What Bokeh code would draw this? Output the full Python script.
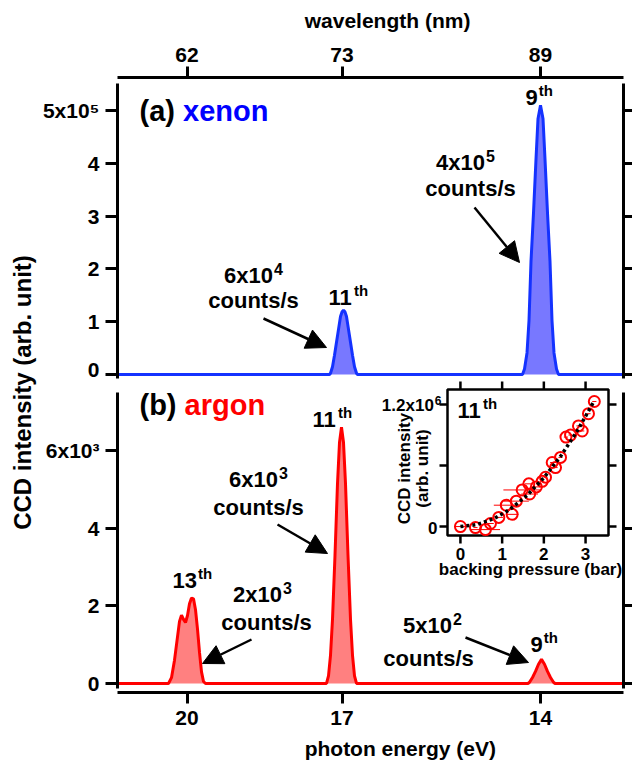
import math
from bokeh.plotting import figure
from bokeh.models import Range1d, LinearAxis, FixedTicker, Arrow, NormalHead
from bokeh.layouts import row, column
from bokeh.core.properties import value
from bokeh.embed import file_html
from bokeh.resources import INLINE

FONT = "Liberation Sans"

# ------------------------------------------------------------------ data
# x axis = CCD pixel index of the spectrometer detector
tick_pixel = [139, 449, 846]
energy_labels = ["20", "17", "14"]          # photon energy (eV)
wavelength_labels = ["62", "73", "89"]      # wavelength (nm)

# (a) xenon spectrum (counts)
xenon_pixel = [0,
               424, 426, 430, 434, 438, 442, 446, 449, 452, 455, 458, 462, 466, 470, 474, 478, 480,
               810, 814, 819, 823, 827, 832, 837, 841, 846, 851, 855, 860, 865, 869, 873, 878, 882,
               1012]
xenon_counts = [0,
                0, 2400, 14600, 36600, 61000, 85400, 109800, 118300, 122000, 118300, 109800, 85400,
                61000, 36600, 14600, 2400, 0,
                0, 10200, 40800, 102000, 214200, 306000, 408000, 484500, 510000, 484500, 408000,
                306000, 214200, 102000, 40800, 10200, 0,
                0]

# (b) argon spectrum (counts)
argon_pixel = [0,
               102, 108, 114, 120, 124, 128, 132, 136, 140, 144, 148, 152, 156, 160, 164, 168, 172, 176,
               418, 422, 426, 430, 435, 440, 444, 448, 452, 456, 461, 466, 470, 474, 478,
               821, 824, 830, 836, 842, 848, 854, 860, 866, 872, 875,
               1012]
argon_counts = [0,
                0, 150, 600, 1200, 1600, 1760, 1650, 1570, 1750, 2050, 2200, 2180, 1900, 1400, 800, 300, 50, 0,
                0, 198, 726, 1650, 3300, 5148, 6204, 6600, 6204, 5148, 3300, 1650, 726, 198, 0,
                0, 31, 155, 310, 496, 620, 496, 310, 155, 31, 0,
                0]

xenon_yticks = [0, 1e5, 2e5, 3e5, 4e5, 5e5]
xenon_ytick_labels = ["0", "1", "2", "3", "4", "5x10\u2075"]
argon_yticks = [0, 2e3, 4e3, 6e3]
argon_ytick_labels = ["0", "2", "4", "6x10\u00b3"]

# inset: 11th harmonic vs backing pressure
pressure_bar = [0.0, 0.36, 0.6, 0.72, 0.92, 1.1, 1.24, 1.34, 1.48, 1.64, 1.66, 1.82, 1.96, 2.04,
                2.2, 2.28, 2.4, 2.53, 2.64, 2.83, 2.92, 3.07, 3.21]
pressure_err = [0.15, 0.05, 0.35, 0.08, 0.1, 0.3, 0.15, 0.3, 0.45, 0.1, 0.2, 0.1, 0.05, 0.05,
                0.05, 0.05, 0.05, 0.05, 0.05, 0.05, 0.05, 0.05, 0.05]
inset_intensity = [0.0, -0.01e6, -0.03e6, 0.03e6, 0.09e6, 0.21e6, 0.12e6, 0.25e6, 0.36e6, 0.42e6,
                   0.32e6, 0.39e6, 0.445e6, 0.485e6, 0.63e6, 0.58e6, 0.68e6, 0.88e6, 0.9e6, 0.99e6,
                   0.94e6, 1.11e6, 1.23e6]
fit_pressure = [0, 0.4, 0.8, 1.2, 1.6, 2.0, 2.4, 2.8, 3.2]
fit_intensity = [0, 0.019e6, 0.077e6, 0.173e6, 0.307e6, 0.48e6, 0.69e6, 0.94e6, 1.23e6]
inset_xticks = [0, 1, 2, 3]
inset_yticks = [0, 0.6e6, 1.2e6]

# ------------------------------------------------------------------ layout (page px)
PAGE_W, PAGE_H = 632, 763
LABEL_W = 38
FIG_W = PAGE_W - LABEL_W
FR_L, FR_R = 117, 623
TTL_TOP_H = 38
TOP_T, SPLIT, BOT_B = 77, 380, 692
TTL_BOT_H = 29
BOT_END = PAGE_H - TTL_BOT_H
MID = 0.36   # alphabetic baseline -> visual middle, in em

BLUE_LINE, BLUE_FILL = "#1432ff", "#7878ff"
RED_LINE, RED_FILL = "#ff0000", "#ff8080"

W = {'0': .556, '1': .556, '2': .556, '3': .556, '4': .556, '5': .556, '6': .556, '7': .556,
     '8': .556, '9': .556, 'x': .556, '.': .278, 't': .333, 'h': .611, 'c': .556, 'o': .611,
     'u': .611, 'n': .611, 's': .556, '/': .278, '(': .333, ')': .333, ' ': .278, 'a': .556,
     'b': .611, 'e': .556, 'g': .611, 'r': .389}


def tw(s, size):
    return sum(W.get(c, .556) for c in s) * size


def style_axis(ax, size=21, out=12, standoff=5):
    ax.axis_line_width = 3
    ax.axis_line_color = "black"
    ax.major_tick_line_width = 3
    ax.major_tick_line_color = "black"
    ax.major_tick_out = out
    ax.major_tick_in = 0
    ax.minor_tick_line_color = None
    ax.major_label_text_font = FONT
    ax.major_label_text_font_style = "bold"
    ax.major_label_text_font_size = f"{size}px"
    ax.major_label_text_color = "black"
    ax.major_label_standoff = standoff


def bare_fig(width, height, xr, yr):
    p = figure(width=width, height=height, x_range=xr, y_range=yr, toolbar_location=None,
               output_backend="svg", min_border=0, x_axis_location=None, y_axis_location=None)
    p.outline_line_color = None
    p.grid.visible = False
    return p


def make_fig(height, yr, xloc, btop, bbot):
    p = figure(width=FIG_W, height=height, x_range=Range1d(0, 1012), y_range=yr,
               x_axis_location=xloc, y_axis_location="left", toolbar_location=None,
               output_backend="svg", min_border_left=FR_L - LABEL_W, min_border_right=PAGE_W - FR_R,
               min_border_top=btop, min_border_bottom=bbot)
    p.outline_line_color = None
    p.grid.visible = False
    p.background_fill_color = "white"
    p.border_fill_color = "white"
    return p


def side_axes(p, ticks, labels, bounds):
    ya = p.yaxis[0]
    style_axis(ya, 21, 12, 6)
    ya.ticker = FixedTicker(ticks=ticks)
    ya.major_label_overrides = {t: l for t, l in zip(ticks, labels)}
    ya.bounds = bounds
    ra = LinearAxis(ticker=FixedTicker(ticks=ticks))
    style_axis(ra, 1, PAGE_W - FR_R, 0)
    ra.major_label_overrides = {t: "" for t in ticks}
    ra.bounds = bounds
    p.add_layout(ra, "right")


# ---------------- top panel (xenon)
top = make_fig(SPLIT - TTL_TOP_H, Range1d(-11400, 562500), "above", TOP_T - TTL_TOP_H, 0)
xa = top.xaxis[0]
style_axis(xa, 21, 11, 5)
xa.ticker = FixedTicker(ticks=tick_pixel)
xa.major_label_overrides = {t: l for t, l in zip(tick_pixel, wavelength_labels)}
side_axes(top, xenon_yticks, xenon_ytick_labels, (-7600, 551000))

top.varea(x=xenon_pixel, y1=0, y2=xenon_counts, fill_color=BLUE_FILL)
top.line(xenon_pixel, xenon_counts, line_color=BLUE_LINE, line_width=3)

# ---------------- bottom panel (argon)
bot = make_fig(BOT_END - SPLIT, Range1d(-232, 7800), "below", 0, BOT_END - BOT_B)
bx = bot.xaxis[0]
style_axis(bx, 21, 11, 7)
bx.ticker = FixedTicker(ticks=tick_pixel)
bx.major_label_overrides = {t: l for t, l in zip(tick_pixel, energy_labels)}
side_axes(bot, argon_yticks, argon_ytick_labels, (-129, 7490))

bot.varea(x=argon_pixel, y1=0, y2=argon_counts, fill_color=RED_FILL)
bot.line(argon_pixel, argon_counts, line_color=RED_LINE, line_width=3)

# ---------------- inset (drawn in bottom panel with its own ranges)
IX0, IX1, IY0, IY1 = -0.31, 3.55, -0.088e6, 1.348e6
IB_L, IB_R, IB_T, IB_B = 447, 608, 389, 535
ixs = (IB_R - IB_L) / (IX1 - IX0)
iys = (IB_B - IB_T) / (IY1 - IY0)
ixr = Range1d(IX0 - (IB_L - FR_L) / ixs, IX1 + (FR_R - IB_R) / ixs)
iyr = Range1d(IY0 - (BOT_B - IB_B) / iys, IY1 + (IB_T - SPLIT) / iys)
bot.extra_x_ranges = {"ix": ixr}
bot.extra_y_ranges = {"iy": iyr}
IR = dict(x_range_name="ix", y_range_name="iy")

bot.quad(left=[IX0], right=[IX1], bottom=[IY0], top=[IY1], fill_color="white",
         line_color="black", line_width=2.5, **IR)
tdx, tdy = 8 / ixs, 8 / iys
bot.segment(x0=inset_xticks + inset_xticks, y0=[IY0] * 4 + [IY1] * 4,
            x1=inset_xticks + inset_xticks, y1=[IY0 - tdy] * 4 + [IY1 + tdy] * 4,
            line_color="black", line_width=2.5, **IR)
bot.segment(x0=[IX0] * 3 + [IX1] * 3, y0=inset_yticks + inset_yticks,
            x1=[IX0 - tdx] * 3 + [IX1 + tdx] * 3, y1=inset_yticks + inset_yticks,
            line_color="black", line_width=2.5, **IR)
bot.segment(x0=[p - e for p, e in zip(pressure_bar, pressure_err)], y0=inset_intensity,
            x1=[p + e for p, e in zip(pressure_bar, pressure_err)], y1=inset_intensity,
            line_color="red", line_width=1, **IR)
bot.scatter(pressure_bar, inset_intensity, marker="circle", size=11, fill_color=None,
            line_color="red", line_width=2, **IR)
bot.line(fit_pressure, fit_intensity, line_dash="3 3", line_width=3.5, line_color="black", **IR)

# ---------------- text helpers
TP = dict(fig=top, frame=(FR_L, FR_R, TOP_T, SPLIT), xr=top.x_range, yr=top.y_range, xn="default", yn="default")
BP = dict(fig=bot, frame=(FR_L, FR_R, SPLIT, BOT_B), xr=bot.x_range, yr=bot.y_range, xn="default", yn="default")
IP = dict(fig=bot, frame=(FR_L, FR_R, SPLIT, BOT_B), xr=ixr, yr=iyr, xn="ix", yn="iy")


def to_data(P, px, py):
    l, r, t, b = P["frame"]
    xr, yr = P["xr"], P["yr"]
    x = xr.start + (px - l) * (xr.end - xr.start) / (r - l)
    y = yr.end - (py - t) * (yr.end - yr.start) / (b - t)
    return x, y


def put(P, px, py, s, size, color="black", align="left", baseline="alphabetic", angle=0.0):
    if baseline == "alphabetic":
        py = py - MID * size
    x, y = to_data(P, px, py)
    P["fig"].text(x=[x], y=[y], text=[s], text_font=value(FONT), text_font_style="bold",
                  text_font_size=f"{size}px", text_color=color, text_align=align,
                  text_baseline="middle", angle=angle,
                  x_range_name=P["xn"], y_range_name=P["yn"])


def put_sup(P, px, py, base, sup, size=22, ssize=15, center=False, right=False):
    wb, ws = tw(base, size), tw(sup, ssize)
    left = px
    if center:
        left = px - (wb + ws + 1) / 2
    if right:
        left = px - (wb + ws + 1)
    put(P, left, py, base, size)
    put(P, left + wb + 1, py - 0.42 * size, sup, ssize)


def arrow(P, a, b):
    x0, y0 = to_data(P, *a)
    x1, y1 = to_data(P, *b)
    P["fig"].add_layout(Arrow(end=NormalHead(size=20, fill_color="black", line_color="black", line_width=1),
                              x_start=x0, y_start=y0, x_end=x1, y_end=y1,
                              line_width=2.5, line_color="black"))


# top panel annotations
put(TP, 139, 121, "(a)", 29)
put(TP, 139 + tw("(a) ", 29), 121, "xenon", 29, color="#0000ff")
put_sup(TP, 525, 105, "9", "th")
put_sup(TP, 328, 305, "11", "th")
put_sup(TP, 253, 283, "6x10", "4", 22, 16, center=True)
put(TP, 253, 308, "counts/s", 22, align="center")
put_sup(TP, 465, 170, "4x10", "5", 22, 16, center=True)
put(TP, 470, 196, "counts/s", 22, align="center")
arrow(TP, (263, 318), (326, 347))
arrow(TP, (474, 207), (519, 262))

# bottom panel annotations
put(BP, 139, 415, "(b)", 29)
put(BP, 139 + tw("(b) ", 29), 415, "argon", 29, color="#ff0000")
put_sup(BP, 312, 427, "11", "th")
put_sup(BP, 258, 487, "6x10", "3", 22, 16, center=True)
put(BP, 258, 515, "counts/s", 22, align="center")
arrow(BP, (277, 524), (327, 553))
put_sup(BP, 172, 588, "13", "th")
put_sup(BP, 262, 602, "2x10", "3", 22, 16, center=True)
put(BP, 266, 630, "counts/s", 22, align="center")
arrow(BP, (251, 639), (202, 663))
put_sup(BP, 432, 633, "5x10", "2", 22, 16, center=True)
put(BP, 428, 666, "counts/s", 22, align="center")
arrow(BP, (465, 637), (528, 662))
put_sup(BP, 530, 652, "9", "th")

# inset texts
put_sup(IP, 457, 418, "11", "th", 22, 15)
_, ylab = to_data(IP, 0, 553)
for t in inset_xticks:
    bot.text(x=[t], y=[ylab], text=[str(t)], text_font=value(FONT), text_font_style="bold",
             text_font_size="17px", text_align="center", text_baseline="middle", **IR)
put(IP, 437, 527, "0", 17, align="right", baseline="middle")
put_sup(IP, 441, 411, "1.2x10", "6", 17, 12, right=True)
put(IP, 530, 575, "backing pressure (bar)", 17, align="center")
put(IP, 404, 468, "CCD intensity", 17, align="center", baseline="middle", angle=math.pi / 2)
put(IP, 422, 468, "(arb. unit)", 17, align="center", baseline="middle", angle=math.pi / 2)

# ---------------- axis titles
ttl_top = bare_fig(FIG_W, TTL_TOP_H, Range1d(LABEL_W, PAGE_W), Range1d(0, TTL_TOP_H))
ttl_top.text(x=[355], y=[TTL_TOP_H - (28 - MID * 21)], text=["wavelength (nm)"], text_font=value(FONT),
             text_font_style="bold", text_font_size="21px", text_align="center",
             text_baseline="middle")
ttl_bot = bare_fig(FIG_W, TTL_BOT_H, Range1d(LABEL_W, PAGE_W), Range1d(0, TTL_BOT_H))
ttl_bot.text(x=[370], y=[PAGE_H - 748], text=["photon energy (eV)"], text_font=value(FONT),
             text_font_style="bold", text_font_size="21px", text_align="center",
             text_baseline="middle")

lab = bare_fig(LABEL_W, PAGE_H, Range1d(0, LABEL_W), Range1d(0, PAGE_H))
lab.text(x=[22], y=[PAGE_H - 392], text=["CCD intensity (arb. unit)"], text_font=value(FONT),
         text_font_style="bold", text_font_size="24px", text_align="center",
         text_baseline="middle", angle=math.pi / 2)

layout = row(lab, column(ttl_top, top, bot, ttl_bot))
open("out.html", "w").write(file_html(layout, INLINE))
